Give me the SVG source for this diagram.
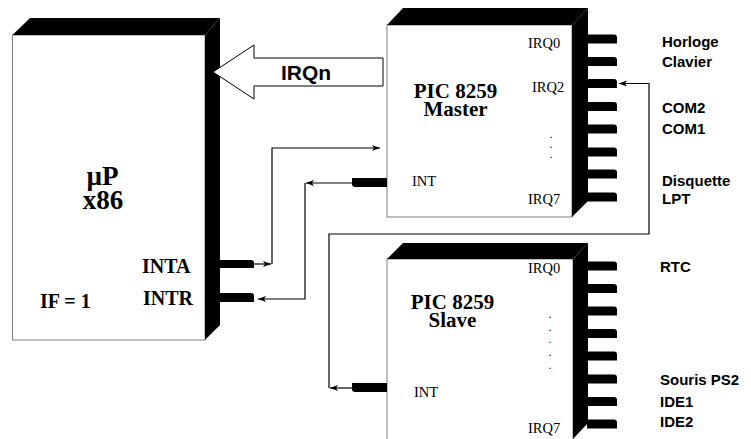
<svg xmlns="http://www.w3.org/2000/svg" width="751" height="439" viewBox="0 0 751 439">
<style>
.face{fill:#fff;stroke:#7f7f7f;stroke-width:1}
.blk{fill:#000;stroke:none}
.pin{fill:#000}
.wire{fill:none;stroke:#000;stroke-width:1.2}
.serif{font-family:"Liberation Serif","Times New Roman",serif;fill:#000}
.sb{font-family:"Liberation Serif","Times New Roman",serif;font-weight:bold;fill:#000}
.sans{font-family:"Liberation Sans",Arial,sans-serif;font-weight:bold;fill:#000;font-size:15px}
.big{font-family:"Liberation Sans",Arial,sans-serif;font-weight:bold;fill:#000;font-size:21px}
.pinlbl{font-size:14.5px}
.dots{font-family:"Liberation Serif","Times New Roman",serif;font-weight:bold;font-size:8.5px;fill:#000;text-anchor:middle}
.title{font-size:21px;text-anchor:middle}
</style>
<defs>
<marker id="arr" markerUnits="userSpaceOnUse" markerWidth="10" markerHeight="8" refX="8" refY="3" orient="auto">
<path d="M0,0 L8,3 L0,6 L2,3 Z" fill="#000"/>
</marker>
</defs>

<g id="cpu">
<rect class="face" x="12.5" y="35" width="192.5" height="305"/>
<polygon class="blk" points="12.5,35 30,18 220,18 205,35"/>
<polygon class="blk" points="205,35 220,18 220,325 205,340"/>
<path class="pin" d="M220,260 H251 Q254,260 254,263 V268 H220 Z"/>
<path class="pin" d="M220,293 H251 Q254,293 254,296 V302 H220 Z"/>
<text class="sb" font-size="27" text-anchor="middle"><tspan x="102.5" y="185">µP</tspan><tspan x="103" y="209">x86</tspan></text>
<text class="sb" x="142" y="273" font-size="20">INTA</text>
<text class="sb" x="143" y="305" font-size="20">INTR</text>
<text class="sb" x="40" y="308" font-size="20">IF = 1</text>
</g>

<g id="irqn">
<polygon points="213,72 254,45 254,58 383,58 383,86 254,86 254,99" fill="#fff" stroke="#000" stroke-width="1"/>
<text class="big" x="281" y="80">IRQn</text>
</g>

<g id="master">
<rect class="face" x="387" y="25" width="185" height="192"/>
<polygon class="blk" points="387,25 403,8 588,8 572,25"/>
<polygon class="blk" points="572,25 588,8 588,201 572,217"/>
<path class="pin" d="M587,34.5 H614 Q617,34.5 617,37.5 V43.5 H587 Z"/>
<path class="pin" d="M587,57 H614 Q617,57 617,60 V66 H587 Z"/>
<path class="pin" d="M587,79 H614 Q617,79 617,82 V88 H587 Z"/>
<path class="pin" d="M587,102 H614 Q617,102 617,105 V111 H587 Z"/>
<path class="pin" d="M587,124.5 H614 Q617,124.5 617,127.5 V133.5 H587 Z"/>
<path class="pin" d="M587,147.5 H614 Q617,147.5 617,150.5 V156.5 H587 Z"/>
<path class="pin" d="M587,169.5 H614 Q617,169.5 617,172.5 V178.5 H587 Z"/>
<path class="pin" d="M587,192.5 H614 Q617,192.5 617,195.5 V201.5 H587 Z"/>
<path class="pin" d="M387,178 H352 V184 Q352,187 355,187 H387 Z"/>
<text class="serif pinlbl" x="528" y="48">IRQ0</text>
<text class="serif pinlbl" x="532" y="92">IRQ2</text>
<text class="sb title"><tspan x="455.5" y="98">PIC 8259</tspan><tspan x="455.5" y="116">Master</tspan></text>
<text class="dots"><tspan x="551" y="138">.</tspan><tspan x="551" y="148">.</tspan><tspan x="551" y="158">.</tspan></text>
<text class="serif pinlbl" x="412" y="186">INT</text>
<text class="serif pinlbl" x="528" y="204">IRQ7</text>
<text class="sans" x="662" y="47">Horloge</text>
<text class="sans" x="662" y="67">Clavier</text>
<text class="sans" x="662" y="113">COM2</text>
<text class="sans" x="662" y="134">COM1</text>
<text class="sans" x="662" y="186">Disquette</text>
<text class="sans" x="662" y="204">LPT</text>
</g>

<g id="slave">
<rect class="face" x="387" y="259" width="186" height="185"/>
<polygon class="blk" points="387,259 403,243 588,243 573,259"/>
<polygon class="blk" points="573,259 588,243 588,423 573,439"/>
<path class="pin" d="M587,261.5 H614 Q617,261.5 617,264.5 V270.5 H587 Z"/>
<path class="pin" d="M587,284 H614 Q617,284 617,287 V293 H587 Z"/>
<path class="pin" d="M587,306.5 H614 Q617,306.5 617,309.5 V315.5 H587 Z"/>
<path class="pin" d="M587,329 H614 Q617,329 617,332 V338 H587 Z"/>
<path class="pin" d="M587,351.5 H614 Q617,351.5 617,354.5 V360.5 H587 Z"/>
<path class="pin" d="M587,374.5 H614 Q617,374.5 617,377.5 V383.5 H587 Z"/>
<path class="pin" d="M587,397 H614 Q617,397 617,400 V406 H587 Z"/>
<path class="pin" d="M587,419.5 H614 Q617,419.5 617,422.5 V428.5 H587 Z"/>
<path class="pin" d="M387,383 H352 V389 Q352,392 355,392 H387 Z"/>
<text class="serif pinlbl" x="528" y="273">IRQ0</text>
<text class="sb title"><tspan x="452.5" y="309">PIC 8259</tspan><tspan x="452.5" y="327">Slave</tspan></text>
<text class="dots"><tspan x="550" y="318">.</tspan><tspan x="550" y="331">.</tspan><tspan x="550" y="343">.</tspan><tspan x="550" y="356">.</tspan><tspan x="550" y="369">.</tspan></text>
<text class="serif pinlbl" x="414" y="397">INT</text>
<text class="serif pinlbl" x="528" y="433">IRQ7</text>
<text class="sans" x="660" y="272">RTC</text>
<text class="sans" x="660" y="385">Souris PS2</text>
<text class="sans" x="660" y="407">IDE1</text>
<text class="sans" x="660" y="427">IDE2</text>
</g>

<g id="connectors">
<path class="wire" d="M254,264 H271" marker-end="url(#arr)"/>
<path class="wire" d="M272,264 V148 H380" marker-end="url(#arr)"/>
<path class="wire" d="M352,183 H306" marker-end="url(#arr)"/>
<path class="wire" d="M305,183 V299 H258" marker-end="url(#arr)"/>
<path class="wire" d="M352,388 H330" marker-end="url(#arr)"/>
<path class="wire" d="M329,388 V234 H649 V83.5 H619" marker-end="url(#arr)"/>
</g>
</svg>
